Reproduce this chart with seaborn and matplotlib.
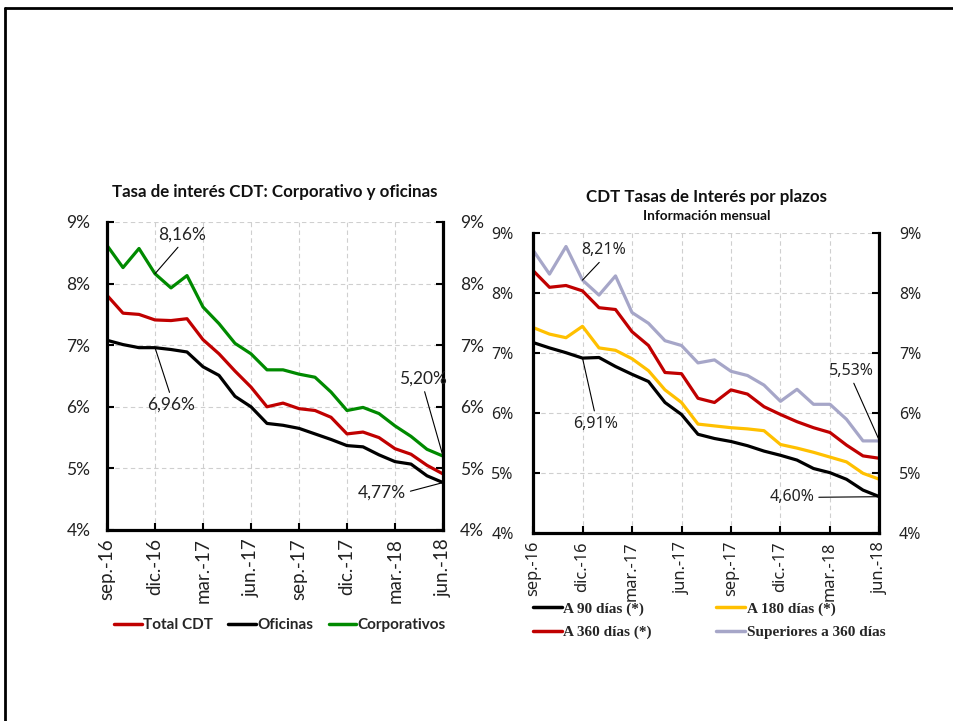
import matplotlib
matplotlib.use("Agg")
import matplotlib.pyplot as plt
from matplotlib.lines import Line2D
import seaborn as sns
import pandas as pd
import numpy as np

# Monthly axis: sep-2016 .. jun-2018
months = ["sep.-16", "oct.-16", "nov.-16", "dic.-16",
          "ene.-17", "feb.-17", "mar.-17", "abr.-17", "may.-17", "jun.-17",
          "jul.-17", "ago.-17", "sep.-17", "oct.-17", "nov.-17", "dic.-17",
          "ene.-18", "feb.-18", "mar.-18", "abr.-18", "may.-18", "jun.-18"]
tick_labels = ["sep.-16", "dic.-16", "mar.-17", "jun.-17",
               "sep.-17", "dic.-17", "mar.-18", "jun.-18"]

# Left panel: CDT rates by channel (%)
total_cdt = [7.81, 7.52, 7.50, 7.41, 7.40, 7.43, 7.09, 6.86, 6.58, 6.32, 6.00,
             6.06, 5.97, 5.94, 5.83, 5.56, 5.59, 5.50, 5.32, 5.23, 5.05, 4.91]
oficinas = [7.08, 7.01, 6.96, 6.96, 6.93, 6.89, 6.65, 6.51, 6.17, 6.00, 5.73,
            5.70, 5.65, 5.56, 5.47, 5.37, 5.35, 5.22, 5.11, 5.07, 4.88, 4.77]
corporativos = [8.62, 8.26, 8.57, 8.16, 7.93, 8.13, 7.62, 7.35, 7.03, 6.86, 6.60,
                6.60, 6.53, 6.48, 6.24, 5.94, 5.99, 5.89, 5.69, 5.52, 5.31, 5.20]

# Right panel: CDT rates by term (%)
d90 = [7.17, 7.08, 7.00, 6.91, 6.92, 6.77, 6.64, 6.52, 6.17, 5.97, 5.64,
       5.57, 5.52, 5.45, 5.36, 5.29, 5.21, 5.07, 5.00, 4.89, 4.71, 4.60]
d180 = [7.42, 7.31, 7.25, 7.44, 7.08, 7.04, 6.90, 6.70, 6.38, 6.17, 5.81,
        5.78, 5.75, 5.73, 5.70, 5.47, 5.41, 5.34, 5.26, 5.18, 4.99, 4.89]
d360 = [8.37, 8.09, 8.12, 8.03, 7.75, 7.72, 7.35, 7.12, 6.67, 6.65, 6.24,
        6.17, 6.38, 6.31, 6.10, 5.97, 5.85, 5.75, 5.67, 5.46, 5.28, 5.24]
sup360 = [8.71, 8.31, 8.77, 8.21, 7.96, 8.28, 7.67, 7.49, 7.20, 7.12, 6.83,
          6.88, 6.69, 6.62, 6.46, 6.19, 6.39, 6.14, 6.14, 5.89, 5.53, 5.53]

left_names = ["Total CDT", "Oficinas", "Corporativos"]
left_colors = ["#C00000", "#000000", "#008A00"]
right_names = ["A 90 días (*)", "A 180 días (*)", "A 360 días (*)", "Superiores a 360 días"]
right_colors = ["#000000", "#FFC000", "#C00000", "#A6A6C8"]

idx = np.arange(len(months))
df_left = pd.concat([pd.DataFrame({"t": idx, "tasa": v, "serie": n})
                     for n, v in zip(left_names, [total_cdt, oficinas, corporativos])])
df_right = pd.concat([pd.DataFrame({"t": idx, "tasa": v, "serie": n})
                      for n, v in zip(right_names, [d90, d180, d360, sup360])])

sns.set_theme(style="white")
plt.rcParams["font.family"] = ["Lato", "DejaVu Sans"]

fig = plt.figure(figsize=(9.54, 7.21), dpi=100)
W, H = 954, 721


def px_axes(x0, y0, x1, y1):
    return fig.add_axes([x0 / W, 1 - y1 / H, (x1 - x0) / W, (y1 - y0) / H])


axL = px_axes(107, 222, 443, 530)
axR = px_axes(533, 232.7, 879.5, 532.7)


def style(ax, tick_font, tick_size, xtick_size):
    ax.set_xlim(0, len(months) - 1)
    ax.set_ylim(4, 9)
    ax.set_yticks([4, 5, 6, 7, 8, 9])
    ax.set_yticklabels([f"{v}%" for v in range(4, 10)],
                       fontfamily=tick_font, fontsize=tick_size, color="#222222")
    ticks = [i for i, m in enumerate(months) if m in tick_labels]
    ax.set_xticks(ticks)
    ax.set_xticklabels(tick_labels, rotation=90, fontfamily=tick_font,
                       fontsize=xtick_size, color="#222222")
    ax.grid(True, color="#CFCFCF", linestyle=(0, (4, 3)), linewidth=0.8)
    ax.set_xlabel("")
    ax.set_ylabel("")
    for s in ["left", "right", "bottom"]:
        ax.spines[s].set_visible(True)
        ax.spines[s].set_color("black")
        ax.spines[s].set_linewidth(2.3)
    ax.spines["top"].set_visible(False)
    ax.tick_params(axis="both", direction="in", length=5, width=1.5, color="black")
    ax.tick_params(axis="y", left=True, right=True, labelleft=True, labelright=True, pad=12)
    ax.tick_params(axis="x", bottom=True, pad=6)


sns.lineplot(data=df_left, x="t", y="tasa", hue="serie", palette=left_colors,
             hue_order=left_names, linewidth=2.3, legend=False, ax=axL)
sns.lineplot(data=df_right, x="t", y="tasa", hue="serie", palette=right_colors,
             hue_order=right_names, linewidth=2.3, legend=False, ax=axR)
style(axL, "Lato", 12.5, 13.5)
style(axR, "Noto Sans", 11.5, 11.8)
axR.tick_params(axis="y", pad=14)

# Value call-outs
line_kw = dict(arrowstyle="-", color="black", lw=0.8, shrinkA=1, shrinkB=0)
ann_l = dict(fontsize=12.5, fontfamily="Lato", color="#222222", ha="center", va="center")
axL.annotate("8,16%", xy=(3, corporativos[3]), xytext=(4.67, 8.79),
             arrowprops=dict(relpos=(0.5, 0), **line_kw), **ann_l)
axL.annotate("6,96%", xy=(3, oficinas[3]), xytext=(4.0, 6.03),
             arrowprops=dict(relpos=(0.5, 1), **line_kw), **ann_l)
axL.annotate("5,20%", xy=(21, corporativos[21]), xytext=(19.77, 6.45),
             arrowprops=dict(relpos=(0.5, 0), **line_kw), **ann_l)
axL.annotate("4,77%", xy=(21, oficinas[21]), xytext=(17.17, 4.61),
             arrowprops=dict(relpos=(1, 0.5), **line_kw), **ann_l)

ann_r = dict(fontsize=11.5, fontfamily="Noto Sans", color="#222222", ha="center", va="center")
axR.annotate("8,21%", xy=(3, sup360[3]), xytext=(4.26, 8.71),
             arrowprops=dict(relpos=(0.5, 0), **line_kw), **ann_r)
axR.annotate("6,91%", xy=(3, d90[3]), xytext=(3.78, 5.82),
             arrowprops=dict(relpos=(0.5, 1), **line_kw), **ann_r)
axR.annotate("5,53%", xy=(21, sup360[21]), xytext=(19.32, 6.70),
             arrowprops=dict(relpos=(0.5, 0), **line_kw), **ann_r)
axR.annotate("4,60%", xy=(21, d90[21]), xytext=(15.68, 4.59),
             arrowprops=dict(relpos=(1, 0.5), **line_kw), **ann_r)

# Titles
fig.text(275 / W, 1 - 192 / H, "Tasa de interés CDT: Corporativo y oficinas",
         ha="center", va="center", fontsize=12.2, fontweight="bold", color="#111111")
fig.text(707 / W, 1 - 197 / H, "CDT Tasas de Interés por plazos",
         ha="center", va="center", fontsize=12.2, fontweight="bold", color="#111111")
fig.text(707 / W, 1 - 216.5 / H, "Información mensual",
         ha="center", va="center", fontsize=9.8, fontweight="bold", color="#111111")

# Legends
hL = [Line2D([], [], color=c, lw=2.5) for c in left_colors]
fig.legend(hL, left_names, loc="center", bbox_to_anchor=(280 / W, 1 - 625 / H),
           ncol=3, frameon=False, handlelength=1.8, handletextpad=0.1,
           columnspacing=1.0, prop=dict(family="Lato", weight="bold", size=11))
hR = [Line2D([], [], color=c, lw=2.5) for c in right_colors]
order = [0, 2, 1, 3]
fig.legend([hR[i] for i in order], [right_names[i] for i in order],
           loc="upper left", bbox_to_anchor=(519 / W, 1 - 588 / H),
           ncol=2, frameon=False, handlelength=1.9, handletextpad=0.1,
           columnspacing=4.2, labelspacing=0.65,
           prop=dict(family="Liberation Serif", weight="bold", size=11))

# Slide frame
fig.add_artist(Line2D([5 / W, 1], [1 - 8 / H, 1 - 8 / H], color="black", lw=2,
                      transform=fig.transFigure))
fig.add_artist(Line2D([5 / W, 5 / W], [0, 1 - 8 / H], color="black", lw=2,
                      transform=fig.transFigure))

fig.savefig("out.png", dpi=100, facecolor="white")
